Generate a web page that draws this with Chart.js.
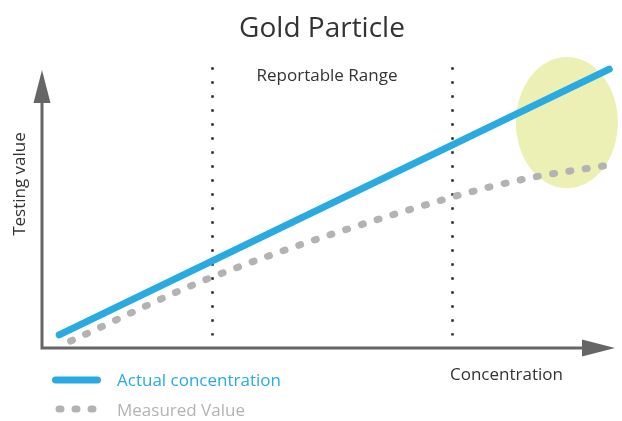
<!DOCTYPE html>
<html>
<head>
<meta charset="utf-8">
<script src="https://cdn.jsdelivr.net/npm/chart.js@4.4.1/dist/chart.umd.min.js"></script>
<style>
  body { margin: 0; background: #fff; }
  canvas { display: block; }
</style>
</head>
<body>
<canvas id="gold-chart" width="622" height="421"></canvas>
<script>
// ------------- data (concentration vs testing value, 0-100 units) ------------- //

var actualX = [3, 99]
var actualY = [4.7, 100.3]

var measuredX = [5, 29.7, 71.6, 85.2, 99]
var measuredY = [2.5, 25.5, 54.3, 61.2, 65.8]

// reportable range limits on the concentration axis
var reportableRange = [29.7, 71.6]

var seriesLabels = ["Actual concentration", "Measured Value"]

var blue = "#29abe2"
var grey = "#b3b3b3"
var axisGrey = "#666666"
var font = "'Open Sans', 'Noto Sans', sans-serif"

function toPoints(xs, ys) {
    return xs.map(function (x, i) { return { x: x, y: ys[i] } })
}

// axes with arrows, dotted range lines, saturation ellipse, labels and legend
var decorations = {
    id: "decorations",
    beforeDatasetsDraw: function (chart) {
        var ctx = chart.ctx
        var a = chart.chartArea
        var xs = chart.scales.x
        var ys = chart.scales.y

        // highlighted zone where measured value flattens
        ctx.save()
        ctx.fillStyle = "#edf0b5"
        ctx.beginPath()
        ctx.ellipse(xs.getPixelForValue(91.6), ys.getPixelForValue(81.1),
            xs.getPixelForValue(8.9) - xs.getPixelForValue(0),
            ys.getPixelForValue(0) - ys.getPixelForValue(23.6), 0, 0, Math.PI * 2)
        ctx.fill()

        // dotted range lines
        ctx.strokeStyle = "#222"
        ctx.lineWidth = 2.5
        ctx.setLineDash([2.5, 11.5])
        reportableRange.forEach(function (v) {
            var px = Math.round(xs.getPixelForValue(v)) + 0.5
            ctx.beginPath()
            ctx.moveTo(px, ys.getPixelForValue(101))
            ctx.lineTo(px, ys.getPixelForValue(4.5))
            ctx.stroke()
        })
        ctx.setLineDash([])

        // axes
        ctx.strokeStyle = axisGrey
        ctx.fillStyle = axisGrey
        ctx.lineWidth = 3
        ctx.beginPath()
        ctx.moveTo(a.left, a.top + 30)
        ctx.lineTo(a.left, a.bottom)
        ctx.lineTo(a.right - 30, a.bottom)
        ctx.stroke()
        ctx.beginPath()
        ctx.moveTo(a.left, a.top)
        ctx.lineTo(a.left - 8.5, a.top + 33)
        ctx.lineTo(a.left + 8.5, a.top + 33)
        ctx.closePath()
        ctx.fill()
        ctx.beginPath()
        ctx.moveTo(a.right, a.bottom)
        ctx.lineTo(a.right - 33, a.bottom - 8.5)
        ctx.lineTo(a.right - 33, a.bottom + 8.5)
        ctx.closePath()
        ctx.fill()
        ctx.restore()
    },
    afterDraw: function (chart) {
        var ctx = chart.ctx
        ctx.save()
        ctx.textBaseline = "alphabetic"

        ctx.fillStyle = "#333"
        ctx.textAlign = "center"
        ctx.font = "28px " + font
        ctx.fillText("Gold Particle", 322, 37)

        ctx.font = "17px " + font
        ctx.fillText("Reportable Range", 327, 81)
        ctx.textAlign = "left"
        ctx.fillText("Concentration", 450, 380)

        ctx.save()
        ctx.translate(25, 184)
        ctx.rotate(-Math.PI / 2)
        ctx.textAlign = "center"
        ctx.fillText("Testing value", 0, 0)
        ctx.restore()

        // legend
        ctx.lineCap = "round"
        ctx.lineWidth = 7
        ctx.strokeStyle = blue
        ctx.beginPath()
        ctx.moveTo(55.5, 380)
        ctx.lineTo(97.5, 380)
        ctx.stroke()
        ctx.strokeStyle = grey
        ctx.setLineDash([2, 14])
        ctx.beginPath()
        ctx.moveTo(59, 409)
        ctx.lineTo(94, 409)
        ctx.stroke()
        ctx.setLineDash([])

        ctx.fillStyle = blue
        ctx.fillText(seriesLabels[0], 117, 386)
        ctx.fillStyle = grey
        ctx.fillText(seriesLabels[1], 117, 416)
        ctx.restore()
    }
}

var goldChart = new Chart("gold-chart", {
    type: "line",
    data: {
        datasets: [{
            label: seriesLabels[0],
            data: toPoints(actualX, actualY),
            borderColor: blue,
            borderWidth: 7,
            borderCapStyle: "round",
            pointRadius: 0,
            clip: false
        }, {
            label: seriesLabels[1],
            data: toPoints(measuredX, measuredY),
            borderColor: grey,
            borderWidth: 7,
            borderCapStyle: "round",
            borderDash: [2, 14.5],
            cubicInterpolationMode: "monotone",
            pointRadius: 0,
            clip: false
        }]
    },
    options: {
        responsive: false,
        animation: false,
        layout: { padding: { left: 42, right: 7, top: 70, bottom: 73 } },
        plugins: {
            legend: { display: false },
            title: { display: false },
            tooltip: { enabled: false }
        },
        scales: {
            x: { type: "linear", min: 0, max: 100, display: false },
            y: { min: 0, max: 100, display: false }
        }
    },
    plugins: [decorations]
});
</script>
</body>
</html>
